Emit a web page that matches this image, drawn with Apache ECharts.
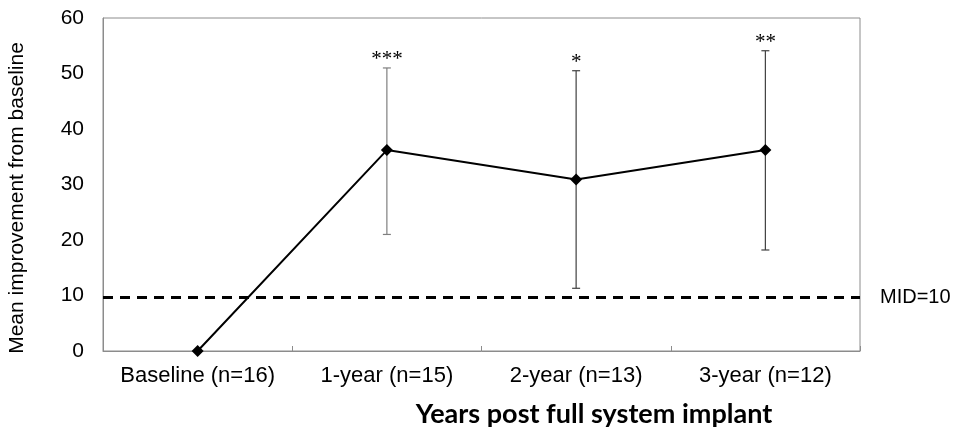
<!DOCTYPE html>
<html>
<head>
<meta charset="utf-8">
<script src="https://cdn.jsdelivr.net/npm/echarts@6/dist/echarts.min.js"></script>
<style>html,body{margin:0;padding:0;background:#fff;}#c{width:955px;height:431px;}</style>
</head>
<body>
<div id="c"></div>
<script>
var categories = ['Baseline (n=16)', '1-year (n=15)', '2-year (n=13)', '3-year (n=12)'];
var means = [0, 36.2, 30.9, 36.2];
var lowerBounds = [null, 21.0, 11.3, 18.2];
var upperBounds = [null, 51.0, 50.5, 54.1];
var significance = ['', '***', '*', '**'];
var yTicks = [0, 10, 20, 30, 40, 50, 60];
var midValue = 9.6;
var midLabel = 'MID=10';
var yAxisTitle = 'Mean improvement from baseline';
var xAxisTitle = 'Years post full system implant';

var errData = categories.map(function (c, i) {
  return [i, lowerBounds[i], upperBounds[i], significance[i]];
}).filter(function (d) { return d[1] !== null; });

var chart = echarts.init(document.getElementById('c'), null, {renderer: 'canvas'});
var axisGrey = '#8c8c8c';
chart.setOption({
  animation: false,
  backgroundColor: '#fff',
  grid: {left: 103, right: 95, top: 18, bottom: 80, show: true, borderColor: axisGrey, borderWidth: 1},
  xAxis: {
    type: 'category',
    data: categories,
    boundaryGap: true,
    axisLine: {lineStyle: {color: axisGrey, width: 1}},
    axisTick: {show: true, inside: true, length: 5, interval: 0, lineStyle: {color: axisGrey}},
    axisLabel: {color: '#000', fontFamily: 'Liberation Sans', fontSize: 22, margin: 14, interval: 0, hideOverlap: false}
  },
  yAxis: {
    type: 'value',
    min: yTicks[0],
    max: yTicks[yTicks.length - 1],
    interval: 10,
    splitLine: {show: false},
    axisLine: {show: true, lineStyle: {color: axisGrey, width: 1}},
    axisTick: {show: false},
    axisLabel: {color: '#000', fontFamily: 'Liberation Sans', fontSize: 21, margin: 19}
  },
  graphic: [
    {type: 'text', x: 17, y: 198, rotation: Math.PI / 2,
     style: {text: yAxisTitle, fill: '#000', font: '21px "Liberation Sans"', textAlign: 'center', textVerticalAlign: 'middle'}},
    {type: 'text', x: 594, y: 414,
     style: {text: xAxisTitle, fill: '#000', font: 'bold 27px Lato', textAlign: 'center', textVerticalAlign: 'middle'}}
  ],
  series: [
    {
      type: 'line',
      data: means,
      symbol: 'diamond',
      symbolSize: 12,
      lineStyle: {color: '#000', width: 2},
      itemStyle: {color: '#000'},
      z: 3,
      markLine: {
        silent: true,
        symbol: 'none',
        data: [{yAxis: midValue}],
        lineStyle: {color: '#000', width: 3, type: [10, 7]},
        label: {show: true, position: 'end', distance: 20, formatter: midLabel, color: '#000', fontFamily: 'Liberation Sans', fontSize: 20}
      }
    },
    {
      type: 'custom',
      data: errData,
      z: 2,
      renderItem: function (params, api) {
        var x = api.value(0);
        var lo = api.coord([x, api.value(1)]);
        var hi = api.coord([x, api.value(2)]);
        var sig = significance[x];
        var col = x === 1 ? '#7f7f7f' : '#404040';
        var hw = 4;
        return {
          type: 'group',
          children: [
            {type: 'line', shape: {x1: hi[0], y1: hi[1], x2: lo[0], y2: lo[1]}, style: {stroke: col, lineWidth: 1.2}},
            {type: 'line', shape: {x1: hi[0] - hw, y1: hi[1], x2: hi[0] + hw, y2: hi[1]}, style: {stroke: col, lineWidth: 1.2}},
            {type: 'line', shape: {x1: lo[0] - hw, y1: lo[1], x2: lo[0] + hw, y2: lo[1]}, style: {stroke: col, lineWidth: 1.2}},
            {type: 'text', x: hi[0], y: hi[1] - 8, style: {text: sig, fill: '#000', font: '21px "Liberation Serif"', textAlign: 'center', textVerticalAlign: 'middle'}}
          ]
        };
      }
    }
  ]
});
</script>
</body>
</html>
